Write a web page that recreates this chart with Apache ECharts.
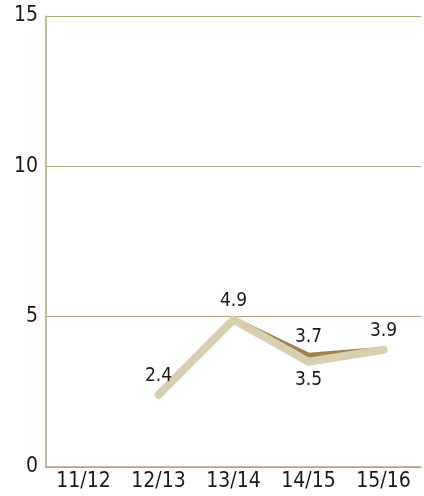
<!DOCTYPE html>
<html><head><meta charset="utf-8">
<script src="https://cdn.jsdelivr.net/npm/echarts@6/dist/echarts.min.js"></script>
<style>html,body{margin:0;padding:0;background:#fff}#c{width:424px;height:496px}</style>
</head><body><div id="c"></div>
<script>
const categories = ['11/12','12/13','13/14','14/15','15/16'];
const darkSeries = [null, null, 4.9, 3.7, 3.9];
const lightSeries = [null, 2.4, 4.9, 3.5, 3.9];
const yTicks = [0, 5, 10, 15];

const font = '"DejaVu Sans Condensed", "Roboto", sans-serif';
const chart = echarts.init(document.getElementById('c'));
const hiddenItem = {color: 'rgba(0,0,0,0)', borderWidth: 0};
chart.setOption({
  animation: false,
  grid: {left: 46, right: 3, top: 16, bottom: 29},
  xAxis: {
    type: 'category', data: categories, boundaryGap: true,
    axisLine: {lineStyle: {color: '#b5a67a', width: 1.5}},
    axisTick: {show: false},
    axisLabel: {color: '#1a1a1a', fontSize: 21, fontFamily: font, margin: 4}
  },
  yAxis: {
    type: 'value', min: yTicks[0], max: yTicks[yTicks.length-1], interval: 5,
    axisLine: {show: true, lineStyle: {color: '#b5a67a', width: 1.5}},
    axisTick: {show: false},
    splitLine: {lineStyle: {color: '#b5a67a', width: 1}},
    axisLabel: {color: '#1a1a1a', fontSize: 21, fontFamily: font, margin: 8}
  },
  series: [
    {
      type: 'line', data: darkSeries, symbol: 'none', z: 2,
      lineStyle: {color: '#9a8550', width: 6, cap: 'round', join: 'round'}
    },
    {
      type: 'line', data: lightSeries, symbol: 'none', z: 3,
      lineStyle: {color: '#d8cfb0', width: 8, cap: 'round', join: 'round'}
    },
    {
      type: 'line', symbol: 'circle', symbolSize: 2, showSymbol: true, z: 4,
      itemStyle: hiddenItem,
      lineStyle: {width: 0, opacity: 0},
      label: {show: true, position: 'top', distance: 8, color: '#1a1a1a', fontSize: 19, fontFamily: font,
        formatter: p => p.value == null ? '' : Number(p.value).toFixed(1)},
      labelLayout: {hideOverlap: false},
      data: darkSeries.map((v, i) => (i === 2 || v == null) ? {value: v, label: {show: false}} : {value: v})
    },
    {
      type: 'line', symbol: 'circle', symbolSize: 2, showSymbol: true, z: 4,
      itemStyle: hiddenItem,
      lineStyle: {width: 0, opacity: 0},
      label: {show: true, position: 'top', distance: 8, color: '#1a1a1a', fontSize: 19, fontFamily: font,
        formatter: p => p.value == null ? '' : Number(p.value).toFixed(1)},
      labelLayout: {hideOverlap: false},
      data: lightSeries.map((v, i) => {
        if (v == null || i === 4) return {value: v, label: {show: false}};
        if (i === 3) return {value: v, label: {position: 'bottom', distance: 8}};
        if (i === 1) return {value: v, label: {offset: [-6, 0]}};
        return {value: v};
      })
    }
  ]
});
</script></body></html>
